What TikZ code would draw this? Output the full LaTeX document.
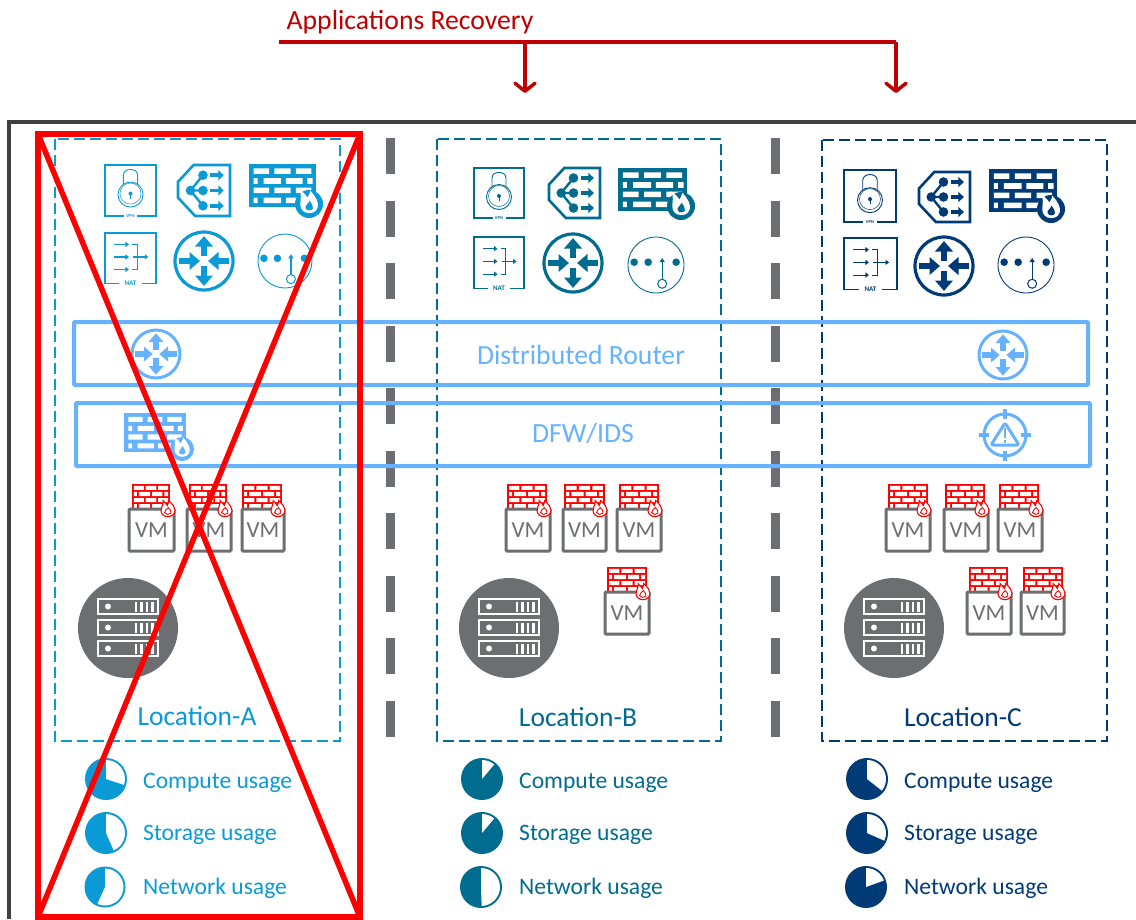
\documentclass[tikz,border=0pt]{standalone}
\usepackage{fontspec}
\setmainfont{Carlito}
\usetikzlibrary{arrows.meta}
\definecolor{colA}{HTML}{0A9AD6}
\definecolor{colB}{HTML}{006C8F}
\definecolor{colC}{HTML}{003B78}
\definecolor{barblue}{HTML}{66B2FF}
\definecolor{vmgrey}{HTML}{6D6E71}
\definecolor{framegrey}{HTML}{404040}
\definecolor{recred}{HTML}{C00000}
\definecolor{xred}{HTML}{FF0000}
\tikzset{
  columnbox/.style={draw=#1,line width=1.3pt,dash pattern=on 11pt off 5pt},
  separator/.style={draw=vmgrey,line width=9pt,dash pattern=on 36pt off 26.5pt},
  busbar/.style={draw=barblue,line width=4pt,rounded corners=1pt},
  bustext/.style={text=barblue,font=\fontsize{27.7}{28}\selectfont,inner sep=0pt},
  usagetext/.style={text=#1,font=\fontsize{23.6}{24}\selectfont,anchor=west,inner sep=0pt},
  loctext/.style={text=#1,font=\fontsize{27.5}{28}\selectfont,inner sep=0pt},
  vmbox/.style={draw=vmgrey,fill=white,line width=3pt,rounded corners=1pt},
  vmtext/.style={text=vmgrey,font=\fontsize{23}{23}\selectfont,inner sep=0pt},
  recarrow/.style={draw=recred,line width=3.5pt,-{Straight Barb[round,length=8pt,width=20pt]}},
  recline/.style={draw=recred,line width=3.2pt},
  xline/.style={draw=xred,line width=5.5pt},
}
\newcommand{\flameicon}[4]{%
  \begin{scope}[shift={(#1,#2)},x=#3 pt,y=-#3 pt]
    \fill[#4] (0,0) circle[radius=#3pt];
    \fill[white] (-.7,-1.05) .. controls (-.35,-.8) and (-.2,-.6) .. (-.1,-.45) .. controls (0,-.7) and (.1,-.85) .. (.1,-.95) .. controls (.5,-.5) and (.72,-.1) .. (.62,.25) .. controls (.5,.6) and (.2,.65) .. (0,.65) .. controls (-.35,.65) and (-.62,.4) .. (-.62,.05) .. controls (-.62,-.4) and (-.5,-.7) .. cycle;
    \fill[#4] (.05,-.25) .. controls (.15,0) and (.35,.1) .. (.28,.32) .. controls (.2,.5) and (-.15,.5) .. (-.25,.3) .. controls (-.3,.1) and (-.05,0) .. cycle;
  \end{scope}
}
\newcommand{\fwicon}[8]{%
  \pgfmathsetmacro\wW{#3-#1}\pgfmathsetmacro\wH{#4-#2}
  \begin{scope}[shift={(#1,#2)},x=\wW pt,y=-\wH pt]
    \fill[#5] (0,0) rectangle (1,1);
    \foreach \ya/\yb in {.1/.23,.55/.68}{
      \fill[white] (.07,\ya) rectangle (.3,\yb) (.38,\ya) rectangle (.62,\yb) (.7,\ya) rectangle (.93,\yb);}
    \foreach \ya/\yb in {.33/.46,.78/.91}{
      \fill[white] (.07,\ya) rectangle (.13,\yb) (.22,\ya) rectangle (.48,\yb) (.55,\ya) rectangle (.8,\yb) (.87,\ya) rectangle (.95,\yb);}
  \end{scope}
  \flameicon{#6}{#7}{#8}{#5}
}
\newcommand{\redfw}[4]{%
  \pgfmathsetmacro\wW{#3-#1}\pgfmathsetmacro\wH{#4-#2}
  \begin{scope}[shift={(#1,#2)},x=\wW pt,y=-\wH pt]
    \fill[xred] (0,0) rectangle (1,1);
    \foreach \ya/\yb in {.07/.23,.54/.70}{
      \fill[white] (.05,\ya) rectangle (.31,\yb) (.36,\ya) rectangle (.64,\yb) (.69,\ya) rectangle (.95,\yb);}
    \foreach \ya/\yb in {.30/.47,.77/.93}{
      \fill[white] (.05,\ya) rectangle (.13,\yb) (.18,\ya) rectangle (.48,\yb) (.53,\ya) rectangle (.8,\yb) (.85,\ya) rectangle (.95,\yb);}
  \end{scope}
}
\newcommand{\redflame}[2]{%
  \begin{scope}[shift={(#1,#2)},x=7pt,y=-7pt]
    \draw[xred,line width=1.1pt,fill=white] (-.7,-1.2) .. controls (-.4,-.9) and (-.2,-.7) .. (-.1,-.5) .. controls (0,-.8) and (.1,-1) .. (.1,-1.2) .. controls (.7,-.6) and (1,-.3) .. (1,.2) .. controls (1,.8) and (.4,1.1) .. (0,1.1) .. controls (-.6,1.1) and (-1,.7) .. (-1,.2) .. controls (-1,-.3) and (-.6,-.7) .. cycle;
    \draw[xred,line width=.9pt] (.05,-.2) .. controls (.3,.1) and (.55,.3) .. (.4,.6) .. controls (.2,.85) and (-.3,.85) .. (-.5,.5) .. controls (-.55,.2) and (-.1,0) .. cycle;
  \end{scope}
}
\newcommand{\vpnicon}[5]{%
  \pgfmathsetmacro\wW{#3-#1}\pgfmathsetmacro\wH{#4-#2}
  \begin{scope}[shift={(#1,#2)},x=\wW pt,y=-\wH pt]
    \draw[#5,line width=1.1pt] (.37,1) -- (0,1) -- (0,0) -- (1,0) -- (1,1) -- (.63,1);
    \node[text=#5,font=\fontsize{4.5}{4.5}\selectfont\bfseries,inner sep=0pt] (vpn-#1) at (.5,1) {VPN};
    \draw[#5,line width=.9pt] (.36,.4) -- (.36,.2) .. controls (.36,.05) and (.64,.05) .. (.64,.2) -- (.64,.4);
    \draw[#5,line width=.9pt,fill=white] (.5,.58) circle[radius=12.5pt];
    \draw[#5,line width=.5pt] (.5,.56) circle[radius=10.5pt];
    \fill[#5] (.5,.56) circle[radius=2pt];
    \draw[#5,line width=1pt] (.5,.56) -- (.5,.66);
  \end{scope}
}
\newcommand{\lbicon}[5]{%
  \pgfmathsetmacro\wW{#3-#1}\pgfmathsetmacro\wH{#4-#2}
  \begin{scope}[shift={(#1,#2)},x=\wW pt,y=-\wH pt,>={Triangle[length=5.5pt,width=10pt]}]
    \draw[#5,line width=2.6pt] (.3,0) -- (1,0) -- (1,1) -- (.33,1) -- (0,.64) -- (0,.33) -- cycle;
    \fill[#5] (.48,.2) circle[radius=4.8pt] (.48,.5) circle[radius=4.8pt] (.48,.8) circle[radius=4.8pt] (.24,.5) circle[radius=4.8pt];
    \draw[#5,line width=2.4pt] (.48,.2) -- (.24,.5) -- (.48,.8) (.24,.5) -- (.48,.5);
    \foreach \yy in {.2,.5,.8}{\draw[#5,line width=3.6pt,->] (.62,\yy) -- (.88,\yy);}
  \end{scope}
}
\newcommand{\naticon}[5]{%
  \pgfmathsetmacro\wW{#3-#1}\pgfmathsetmacro\wH{#4-#2}
  \begin{scope}[shift={(#1,#2)},x=\wW pt,y=-\wH pt,>={Triangle[length=3.5pt,width=5pt]}]
    \draw[#5,line width=1.5pt] (.28,.97) -- (0,.97) -- (0,0) -- (1,0) -- (1,.97) -- (.72,.97);
    \node[text=#5,font=\fontsize{7}{7}\selectfont\bfseries,inner sep=0pt] (nat-#1) at (.5,.97) {NAT};
    \foreach \yy in {.22,.46,.7}{\draw[#5,line width=1.2pt,->] (.17,\yy) -- (.47,\yy);}
    \draw[#5,line width=1.2pt] (.53,.22) -- (.63,.22) -- (.63,.7) -- (.53,.7);
    \draw[#5,line width=1.2pt,->] (.55,.46) -- (.85,.46);
  \end{scope}
}
\newcommand{\routericon}[5]{%
  \pgfmathsetmacro\ls{#3*.24}\pgfmathsetmacro\tl{#3*.36}\pgfmathsetmacro\tw{#3*.6}
  \begin{scope}[shift={(#1,#2)},x=#3 pt,y=-#3 pt,>={Triangle[length=\tl pt,width=\tw pt]}]
    \draw[#4,line width=#5pt] (0,0) circle[radius=#3pt];
    \draw[#4,line width=\ls pt,->] (0,-.18) -- (0,-.86);
    \draw[#4,line width=\ls pt,->] (0,.18) -- (0,.86);
    \draw[#4,line width=\ls pt,->] (-.86,0) -- (-.14,0);
    \draw[#4,line width=\ls pt,->] (.86,0) -- (.14,0);
  \end{scope}
}
\newcommand{\dnsicon}[4]{%
  \begin{scope}[shift={(#1,#2)},x=#3 pt,y=-#3 pt]
    \draw[#4,line width=.9pt] (0,0) circle[radius=#3pt];
    \fill[#4] (-.78,-.1) circle[radius=3.8pt] (-.28,-.1) circle[radius=3.8pt] (.72,-.1) circle[radius=3.8pt];
    \draw[#4,line width=1.2pt,-{Triangle[length=4pt,width=5pt]}] (.22,.5) -- (.22,-.25);
    \draw[#4,line width=1pt] (.22,.67) circle[radius=4.5pt];
  \end{scope}
}
\newcommand{\usage}[5]{%
  \fill[#4] (#1,#2) circle[radius=#3pt];
  \pgfmathsetmacro\ri{#3-2}
  \fill[white] (#1,#2) -- ++(#5:\ri pt) arc[start angle=#5,end angle=90,radius=\ri pt] -- cycle;
}
\newcommand{\servericon}[2]{%
  \begin{scope}[shift={(#1,#2)}]
    \fill[vmgrey] (0,0) circle[radius=50pt];
    \foreach \yy in {-29,-8,13}{
      \draw[white,line width=1.8pt] (-30,\yy) rectangle (30,\yy+15);
      \fill[white] (-20,\yy+7.5) circle[radius=3pt];
      \foreach \xx in {8,13.5,19,24.5}{\fill[white] (\xx-1.4,\yy+2.5) rectangle (\xx+1.4,\yy+12.5);}
    }
  \end{scope}
}
\newcommand{\vm}[4]{%
  \draw[vmbox] (#1,#2) rectangle (#3,#4);
  \node[vmtext] (vm-#1-#2) at ({(#1+#3)/2},{(#2+#4)/2}) {VM};
  \redflame{\the\numexpr#3-6\relax}{\the\numexpr#2\relax}
}
\begin{document}
\begin{tikzpicture}[x=1pt,y=-1pt]
\useasboundingbox (0,0) rectangle (1136,919);
\fill[white] (0,0) rectangle (1136,919);
% recovery
\node[text=recred,font=\fontsize{27.7}{28}\selectfont,inner sep=0pt] (applabel) at (410,22) {Applications Recovery};
\coordinate (rs) at (279,42); \coordinate (re) at (896,42); \coordinate (rm) at (525,42);
\coordinate (tb) at (525,93); \coordinate (tc) at (896,93);
\draw[recline] (rs) -- (re);
\draw[recarrow] (rm) -- (tb);
\draw[recarrow] (re) -- (tc);
% outer frame
\draw[framegrey,line width=3.5pt] (1136,122) -- (9,122) -- (9,919);
% column boxes
\draw[columnbox=colA] (55,139) rectangle (340,741);
\draw[columnbox=colB] (437,139) rectangle (721,741);
\draw[columnbox=colC] (822,140) rectangle (1107,741);
% separators
\draw[separator] (390,138) -- (390,737);
\draw[separator] (775,138) -- (775,737);
% buses
\draw[busbar] (74,322) rectangle (1088,385);
\draw[busbar] (76,403) rectangle (1090,466);
\node[bustext] (drtext) at (581,355) {Distributed Router};
\node[bustext] (dfwtext) at (583,433) {DFW/IDS};
% icons A
\vpnicon{105}{165}{156}{216}{colA}
\lbicon{178}{165}{230}{216}{colA}
\fwicon{249}{164}{316}{207}{colA}{309}{204}{14}
\naticon{105}{233}{156}{285}{colA}
\routericon{204}{261}{29}{colA}{3.2}
\dnsicon{285}{261}{27}{colA}
% icons B
\vpnicon{474}{168}{524}{218}{colB}
\lbicon{549}{168}{600}{218}{colB}
\fwicon{618}{168}{687}{211}{colB}{681}{206}{14}
\naticon{474}{237}{524}{290}{colB}
\routericon{573}{263}{29}{colB}{3.2}
\dnsicon{656}{265}{28}{colB}
% icons C
\vpnicon{844}{170}{896}{222}{colC}
\lbicon{919}{172}{970}{222}{colC}
\fwicon{989}{169}{1057}{212}{colC}{1051}{209}{14}
\naticon{844}{238}{897}{291}{colC}
\routericon{944}{266}{29}{colC}{3.2}
\dnsicon{1026}{265}{28}{colC}
% bus icons
\routericon{156}{354}{24}{barblue}{3}
\routericon{1003}{355}{24}{barblue}{3}
\fwicon{124}{413}{186}{452}{barblue}{182}{449}{12}
% alert icon
\draw[barblue,line width=3pt] (1005,435) circle[radius=21pt];
\draw[barblue,line width=3.5pt] (1005,409) -- (1005,419) (1005,451) -- (1005,461) (979,435) -- (989,435) (1021,435) -- (1031,435);
\draw[barblue,line width=3pt,line join=round,rounded corners=2pt] (1005,423) -- (1019,445) -- (991,445) -- cycle;
\draw[barblue,line width=1.8pt] (1005,428) -- (1005,438) (1005,440) -- (1005,443);
% VMs A
\redfw{132}{484}{170}{510}\redfw{189}{484}{227}{510}\redfw{242}{484}{282}{510}
\vm{129}{509}{174}{551}\vm{187}{509}{231}{551}\vm{242}{509}{284}{551}
% VMs B
\redfw{507}{484}{547}{510}\redfw{564}{484}{605}{510}\redfw{619}{484}{659}{510}
\vm{506}{509}{550}{551}\vm{563}{509}{606}{551}\vm{617}{509}{661}{551}
\redfw{607}{567}{647}{593}
\vm{605}{592}{649}{634}
% VMs C
\redfw{888}{484}{928}{510}\redfw{945}{484}{985}{510}\redfw{999}{484}{1039}{510}
\vm{886}{509}{930}{551}\vm{944}{509}{988}{551}\vm{998}{509}{1042}{551}
\redfw{969}{567}{1008}{593}\redfw{1023}{567}{1063}{593}
\vm{967}{592}{1011}{634}\vm{1021}{592}{1064}{634}
% servers
\servericon{128}{628}
\servericon{509}{628}
\servericon{894}{628}
% locations
\node[loctext=colA] (loca) at (197,716) {Location-A};
\node[loctext=colB] (locb) at (578,717) {Location-B};
\node[loctext=colC] (locc) at (963,717) {Location-C};
% usage A
\usage{106}{779}{21}{colA}{-18}
\usage{106}{833}{21}{colA}{-66}
\usage{105}{887}{20.5}{colA}{-114}
\node[usagetext=colA] (ua1) at (143,783) {Compute usage};
\node[usagetext=colA] (ua2) at (143,835) {Storage usage};
\node[usagetext=colA] (ua3) at (143,888) {Network usage};
% usage B
\usage{482}{779}{21}{colB}{50}
\usage{482}{833}{21}{colB}{50}
\usage{481}{887}{21}{colB}{-88}
\node[usagetext=colB] (ub1) at (519,783) {Compute usage};
\node[usagetext=colB] (ub2) at (519,835) {Storage usage};
\node[usagetext=colB] (ub3) at (519,888) {Network usage};
% usage C
\usage{867}{779}{21}{colC}{-38}
\usage{867}{833}{21}{colC}{-24}
\usage{866}{887}{21}{colC}{20}
\node[usagetext=colC] (uc1) at (904,783) {Compute usage};
\node[usagetext=colC] (uc2) at (904,835) {Storage usage};
\node[usagetext=colC] (uc3) at (904,888) {Network usage};
% red cross
\draw[xline] (38,134) rectangle (360,917);
\draw[xline] (38,134) -- (360,917);
\draw[xline] (360,134) -- (38,917);
\end{tikzpicture}
\end{document}
